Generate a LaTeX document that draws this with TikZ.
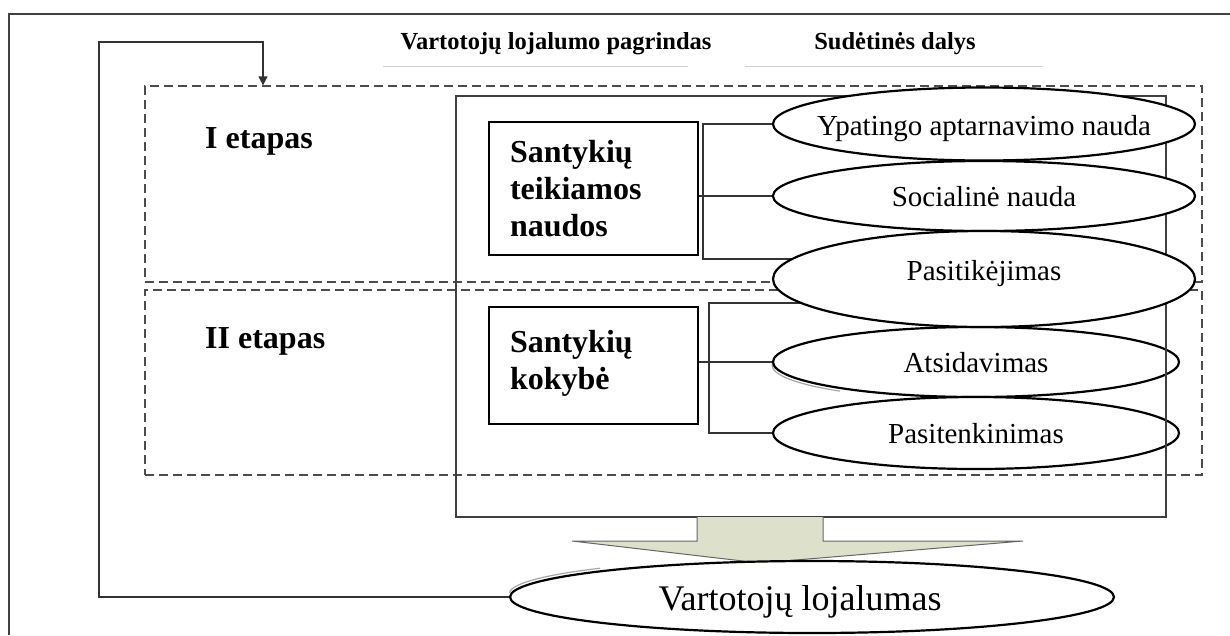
\documentclass[tikz,border=0pt]{standalone}
\usepackage{fontspec}
\setmainfont{Liberation Serif}
\usetikzlibrary{shapes.geometric,arrows.meta}
\definecolor{arrowfill}{RGB}{221,225,203}
\begin{document}
\begin{tikzpicture}[x=1pt,y=-1pt,
  border/.style={draw=black!75, line width=1.3pt},
  underline/.style={draw=black!18, line width=1pt},
  stage/.style={draw=black!70, line width=1.2pt, dash pattern=on 9pt off 5pt,
    minimum width=1057pt, inner sep=0pt},
  frame/.style={draw=black!75, line width=1.5pt, inner sep=0pt},
  benefit/.style={draw, line width=2.2pt, minimum width=209pt, text width=167pt,
    inner xsep=21pt, inner ysep=0pt, align=left,
    font=\fontsize{32}{37}\selectfont\bfseries},
  oval/.style={ellipse, draw, line width=2.2pt, fill=white, inner sep=0pt},
  ovalshadow/.style={ellipse, draw=black!35, line width=1.2pt, inner sep=0pt},
  ovaltext/.style={anchor=base, inner sep=0pt, font=\fontsize{29}{34}\selectfont},
  heading/.style={inner sep=0pt, font=\fontsize{24.5}{29}\selectfont\bfseries},
  stagetext/.style={anchor=base west, inner sep=0pt,
    font=\fontsize{32}{37}\selectfont\bfseries},
  link/.style={draw=black!80, line width=1.2pt},
]
\useasboundingbox (0,0) rectangle (1230,635);

% outer page border (top and left)
\draw[border] (1230,14) -- (9,14) -- (9,635);
\draw[draw=black!75, line width=2.5pt] (1200,14) -- (1230,14);

% column headings
\node[heading] (h1) at (556,44) {Vartotojų lojalumo pagrindas};
\node[heading] (h2) at (895,44) {Sudėtinės dalys};
\draw[underline] (383,66) -- (688,66);
\draw[underline] (745,66) -- (1043,66);

% the two stages
\node[stage, minimum height=196pt] (st1) at (673.5,184) {};
\node[stage, minimum height=185pt] (st2) at (673.5,382.5) {};
\node[stagetext] (l1) at (205,148) {I etapas};
\node[stagetext] (l2) at (205,348) {II etapas};

% foundations of loyalty
\node[benefit, minimum height=133pt] (b1) at (593.5,188.5)
  {Santykių\\teikiamos\\naudos};
\node[benefit, minimum height=117pt] (b2) at (593.5,365.5)
  {Santykių\\kokybė\rule[-12pt]{0pt}{0pt}};

% component ellipse positions
\coordinate (c1) at (984,124);
\coordinate (c2) at (984,196);
\coordinate (c3) at (984,279);
\coordinate (c4) at (976,362);
\coordinate (c5) at (976,433);
\coordinate (j1) at (703,259);
\coordinate (j2) at (709,303);

% brackets joining each foundation to its components
\draw[link] (c1 -| 773,0) -| (j1) -- (c3 |- j1);
\draw[link] (b1.east |- c2) -- (c2 -| 773,0);
\draw[link] (c3 |- j2) -- (j2) |- (c5 -| 773,0);
\draw[link] (b2.east |- c4) -- (c4 -| 773,0);

% second-stage components
\begin{scope}
  \clip (765,362) rectangle (840,402);
  \node[ovalshadow, minimum width=406pt, minimum height=70pt] (e4s)
    at ([shift={(-1,3)}]c4) {};
\end{scope}
\node[oval, minimum width=406pt, minimum height=70pt] (e4) at (c4) {};
\node[oval, minimum width=406pt, minimum height=72pt] (e5) at (c5) {};

% frame around the foundations
\node[frame, minimum width=710pt, minimum height=421pt] (fr) at (811,306.5) {};

% first-stage components
\node[oval, minimum width=422pt, minimum height=73pt] (e1) at (c1) {};
\node[oval, minimum width=422pt, minimum height=70pt] (e2) at (c2) {};
\node[oval, minimum width=422pt, minimum height=96pt] (e3) at (c3) {};

\node[ovaltext] (t1) at ([yshift=-11pt]e1.center) {Ypatingo aptarnavimo nauda};
\node[ovaltext] (t2) at ([yshift=-10pt]e2.center) {Socialinė nauda};
\node[ovaltext] (t3) at ([yshift=-1pt]e3.center) {Pasitikėjimas};
\node[ovaltext] (t4) at ([yshift=-10pt]e4.center) {Atsidavimas};
\node[ovaltext] (t5) at ([yshift=-10pt]e5.center) {Pasitenkinimas};

% block arrow down to loyalty
\fill[arrowfill] (697,517) -- (697,541) -- (572,541) -- (760,563)
  -- (1023,541) -- (823,541) -- (823,517) -- cycle;
\draw[draw=black!60, line width=1pt] (697,517) -- (697,541) -- (572,541)
  -- (760,563) -- (1023,541) -- (823,541) -- (823,517);

% customer loyalty
\begin{scope}
  \clip (505,555) rectangle (600,592);
  \node[ovalshadow, minimum width=604pt, minimum height=72pt] (gs)
    at ([shift={(-1,-3)}]812,597) {};
\end{scope}
\node[oval, minimum width=604pt, minimum height=72pt] (goal) at (812,597) {};
\node[anchor=base, inner sep=0pt, font=\fontsize{36}{42}\selectfont] (tg)
  at ([xshift=-12pt,yshift=-13pt]goal.center) {Vartotojų lojalumas};

% feedback loop back to the first stage
\coordinate (fbl) at (99,42);
\coordinate (fbr) at (263,42);
\draw[link, -{Triangle[width=9pt,length=9pt]}]
  (goal.west) -| (fbl) -- (fbr) -- (fbr |- st1.north);
\end{tikzpicture}
\end{document}
